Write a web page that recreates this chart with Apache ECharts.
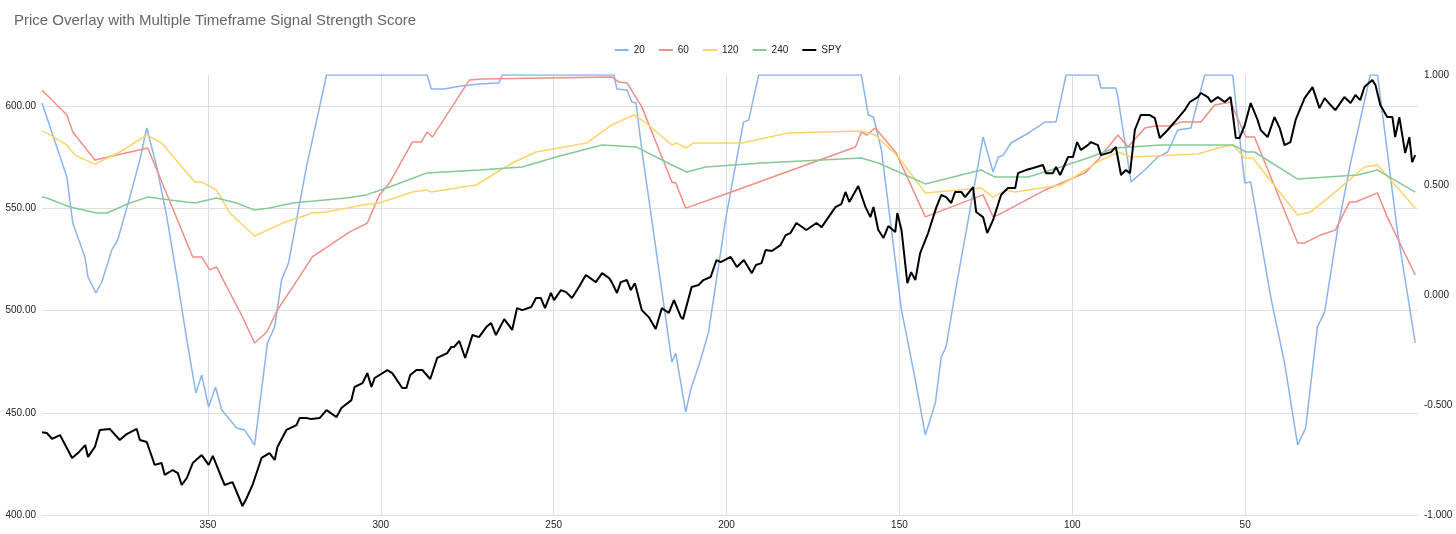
<!DOCTYPE html>
<html><head><meta charset="utf-8">
<script src="https://cdn.jsdelivr.net/npm/echarts@6/dist/echarts.min.js"></script>
<style>html,body{margin:0;padding:0;background:#fff}#c{width:1456px;height:534px}</style>
</head><body><div id="c"></div>
<script>
const seriesNames = ['20','60','120','240','SPY'];
const xTicks = [50,100,150,200,250,300,350];

const s20X = [398,390.8,389.1,385.6,384.7,382.4,380.7,377.8,376.1,372.6,369.7,367.7,364.8,361.9,359.0,356.1,353.5,351.8,349.8,347.8,346.0,341.7,339.4,336.5,332.8,330.7,328.7,326.7,321.5,315.7,286.6,285.4,281.7,276.8,271.6,265.8,264.9,232.6,231.7,228.8,227.4,226.2,224.5,220.5,215.8,214.7,211.8,210.4,207.5,205.2,200.3,195.1,193.6,190.7,161.0,159.0,157.5,155.2,149.4,145.4,142.5,139.6,137.9,136.5,133.9,125.8,122.9,121.4,120.0,117.7,112.2,107.9,104.7,101.8,92.6,91.7,87.4,86.8,83.0,79.0,75.3,72.4,69.5,65.7,61.7,53.6,50.1,48.4,42.6,38.6,34.8,32.5,29.1,27.0,23.3,19.5,13.8,11.7,6.0,0.8];
const s20Y = [0.873,0.536,0.327,0.173,0.082,0.009,0.059,0.205,0.25,0.445,0.614,0.759,0.582,0.355,0.082,-0.205,-0.445,-0.364,-0.509,-0.418,-0.523,-0.605,-0.614,-0.682,-0.218,-0.145,0.068,0.145,0.582,1,1,0.936,0.936,0.95,0.959,0.964,1,1,0.936,0.932,0.877,0.873,0.659,0.218,-0.305,-0.264,-0.532,-0.432,-0.295,-0.168,0.341,0.786,0.795,1,1,0.818,0.809,0.659,-0.068,-0.386,-0.636,-0.491,-0.282,-0.236,0.009,0.718,0.559,0.627,0.636,0.691,0.741,0.786,0.786,1,1,0.941,0.941,0.9,0.514,0.568,0.627,0.65,0.75,0.759,1,1,0.509,0.514,-0.009,-0.309,-0.682,-0.605,-0.145,-0.077,0.295,0.6,1,1,0.295,-0.218];

const s60X = [398,396.6,390.8,389.1,385.0,382.7,367.4,354.4,351.8,349.5,347.5,340.0,336.5,333.0,329.9,325.5,319.8,309.1,303.9,300.4,297.5,290.9,288.3,286.6,285.1,274.4,270.7,233.2,231.1,228.8,224.5,215.8,214.7,211.8,199.4,162.7,161.0,159.5,157.0,150.9,142.5,125.8,122.9,121.4,107.9,96.3,92.6,86.8,83.9,79.0,76.1,71.5,68.6,62.8,58.8,54.2,49.8,47.3,34.8,32.8,28.2,23.9,19.8,18.1,11.7,8.9,0.8];
const s60Y = [0.93,0.909,0.818,0.741,0.659,0.614,0.668,0.173,0.173,0.114,0.127,-0.1,-0.218,-0.168,-0.068,0.036,0.173,0.286,0.327,0.455,0.509,0.695,0.695,0.741,0.718,0.977,0.982,0.991,0.968,0.964,0.855,0.514,0.509,0.395,0.464,0.673,0.741,0.727,0.759,0.645,0.355,0.455,0.355,0.364,0.477,0.555,0.614,0.727,0.673,0.759,0.768,0.768,0.786,0.786,0.864,0.877,0.718,0.718,0.236,0.236,0.273,0.295,0.423,0.423,0.464,0.355,0.091];

const s120X = [398,396.6,390.8,388.5,382.7,375.5,367.7,363.4,353.8,351.8,347.5,343.7,336.5,328.4,319.8,315.7,305.3,300.4,290.9,286.6,285.4,272.4,262.0,255.1,240.4,233.2,226.8,223.3,215.8,214.4,211.8,209.5,195.6,182.1,161.0,157.0,150.3,142.5,126.4,122.9,119.4,116.5,103.3,97.5,92.6,86.8,83.0,63.7,57.9,53.6,50.1,47.8,34.8,31.1,23.3,15.5,11.7,0.8];
const s120Y = [0.745,0.736,0.682,0.636,0.595,0.65,0.727,0.691,0.514,0.514,0.477,0.373,0.268,0.327,0.373,0.377,0.409,0.418,0.468,0.477,0.468,0.5,0.6,0.65,0.691,0.773,0.818,0.782,0.682,0.691,0.668,0.691,0.691,0.736,0.745,0.727,0.627,0.464,0.486,0.445,0.477,0.468,0.5,0.555,0.605,0.65,0.627,0.641,0.668,0.682,0.623,0.623,0.364,0.377,0.477,0.582,0.591,0.395];

const s240X = [398,396.6,389.9,382.1,379.2,372.6,367.4,361.0,353.8,347.5,341.7,336.5,332.2,325.5,310.0,304.2,297.5,286.6,271.6,259.1,249.3,236.0,226.2,215.8,211.5,206.0,189.9,161.0,156.1,142.5,126.4,122.3,112.8,103.3,95.5,87.7,74.4,53.6,49.8,47.3,34.8,17.5,11.7,0.8];
const s240Y = [0.445,0.441,0.4,0.373,0.373,0.418,0.445,0.432,0.418,0.441,0.418,0.386,0.395,0.418,0.441,0.455,0.491,0.555,0.568,0.582,0.627,0.682,0.673,0.591,0.559,0.582,0.6,0.623,0.6,0.505,0.568,0.536,0.536,0.582,0.623,0.668,0.682,0.682,0.65,0.65,0.527,0.545,0.568,0.468];

const spyX = [398,396.6,395.1,392.8,389.3,387.6,385.5,384.7,382.7,381.3,378.4,375.5,373.5,370.6,369.7,367.7,365.4,363.4,362.5,360.2,358.7,357.6,356.1,354.4,351.8,349.8,348.6,345.2,342.9,340.0,338.8,337.1,334.5,332.2,330.7,329.9,327.3,324.4,323.5,321.5,320.1,317.7,315.7,312.8,311.4,308.5,307.6,305.3,303.9,302.7,301.8,298.1,296.7,293.8,292.6,291.5,289.7,288.0,285.7,283.7,280.8,279.6,278.8,277.3,275.6,273.5,271.6,269.5,268.1,266.7,264.3,262.0,260.6,259.1,256.5,255.1,253.7,252.5,250.8,249.9,247.9,246.4,244.7,242.7,240.7,237.8,236.0,234.0,233.2,231.7,230.6,228.8,227.7,226.5,224.5,222.5,220.5,218.7,216.7,215.2,213.2,212.6,210.1,208.1,206.7,204.6,202.9,201.7,198.8,197.0,195.0,192.7,191.5,189.9,188.7,186.9,184.4,182.9,181.5,179.8,176.9,174.0,172.5,170.5,168.5,166.8,165.6,164.5,161.9,159.8,158.4,157.5,156.1,154.6,153.2,151.2,150.6,149.4,147.7,146.6,145.4,144.0,141.7,139.3,137.9,136.5,135.0,133.9,132.1,131.0,128.7,127.8,125.8,124.6,122.9,120.6,118.6,116.5,115.7,113.4,111.3,108.5,107.6,105.6,104.7,103.5,101.2,99.8,98.6,97.5,95.5,94.6,92.6,91.7,88.8,87.4,85.9,84.5,83.3,81.9,80.2,77.6,76.1,74.7,72.4,70.4,67.5,66.0,63.7,62.8,60.8,59.9,57.9,55.9,54.2,52.7,51.6,50.1,48.4,46.4,45.5,43.5,41.5,40.0,38.6,36.9,35.4,32.8,30.5,28.5,27.0,25.3,23.9,21.3,19.5,18.1,16.7,15.5,13.2,12.3,10.9,8.9,7.4,6.6,5.4,3.7,2.5,1.7,0.8];
const spyY = [440.5,440.1,437.2,439.1,427.9,430.3,434.2,428.4,433.3,441.6,442.1,436.7,439.6,442.1,436.7,435.7,424.5,425.4,419.6,422.0,420.5,414.7,418.1,425.4,429.3,424.5,428.9,414.7,416.1,404.4,408.3,414.7,427.9,430.3,426.9,433.3,441.6,444.0,447.4,447.4,446.9,447.4,451.3,447.9,452.3,456.2,462.6,464.5,469.4,462.6,467.0,470.9,469.4,462.1,462.1,468.5,470.9,470.9,466.5,476.8,479.2,482.2,482.2,485.1,476.8,488.0,487.0,491.9,493.9,488.0,495.8,490.5,501.2,500.2,501.7,506.1,506.1,501.2,508.6,505.1,510.0,509.0,506.1,511.5,517.4,513.9,518.3,515.9,513.9,508.6,513.9,514.9,510.0,513.4,500.2,496.8,491.0,501.2,498.8,505.1,496.8,495.8,511.5,512.5,514.9,516.4,524.7,523.7,526.2,521.3,524.7,518.3,522.3,523.2,529.6,529.1,532.0,536.9,537.9,542.8,539.4,542.8,540.8,545.7,550.6,552.1,558.0,553.1,560.9,550.6,545.7,550.6,539.4,535.5,541.3,538.4,547.7,539.4,513.4,518.8,514.9,528.1,537.9,550.6,556.5,555.5,552.6,558.0,558.0,555.5,560.4,548.2,545.7,537.9,544.3,556.5,559.9,559.9,567.2,568.7,569.7,571.2,567.2,567.2,570.2,566.3,575.1,575.1,582.4,578.5,580.9,582.4,580.9,576.0,577.5,580.0,566.3,568.7,567.2,588.3,595.6,595.6,594.1,584.4,588.3,592.2,598.0,602.0,604.4,606.4,604.4,602.0,604.4,602.0,604.4,584.4,584.4,590.7,601.5,593.2,588.3,584.8,594.6,589.2,580.9,582.4,593.2,603.9,609.3,599.0,603.9,600.5,598.0,604.4,601.5,605.4,602.9,609.3,612.7,610.3,600.5,594.6,594.6,584.8,594.6,577.0,584.8,572.6,576.0];

const colors = ['#8ab4f0','#ef8f85','#fcd46b','#86c995','#000000'];
const zip = (xs, ys) => xs.map((x, i) => [x, ys[i]]);
const seriesData = [zip(s20X,s20Y), zip(s60X,s60Y), zip(s120X,s120Y), zip(s240X,s240Y), zip(spyX,spyY)];
const FONT = 'Liberation Sans, Arial, sans-serif';

const chart = echarts.init(document.getElementById('c'), null, {renderer:'canvas'});
chart.setOption({
  animation:false,
  color: colors,
  title:{text:'Price Overlay with Multiple Timeframe Signal Strength Score', left:9, top:8,
    textStyle:{fontFamily:FONT, fontSize:15, fontWeight:'normal', color:'#666666'}},
  legend:{top:40, left:'center', itemWidth:14, itemHeight:2, itemGap:14, icon:'rect',
    textStyle:{fontFamily:FONT, fontSize:10, color:'#222'}, data:seriesNames},
  grid:{left:42, right:38, top:75, bottom:19, containLabel:false},
  xAxis:{type:'value', inverse:true, min:0, max:398, interval:50,
    axisLine:{show:false}, axisTick:{show:false},
    axisLabel:{showMinLabel:false, showMaxLabel:false, fontFamily:FONT, fontSize:10, color:'#222', margin:5},
    splitLine:{show:true, showMinLine:false, showMaxLine:false, lineStyle:{color:'#d6dfee', width:1}}},
  yAxis:[
    {type:'value', min:400, max:615.2, interval:50, position:'left',
     axisLine:{show:false}, axisTick:{show:false},
     axisLabel:{showMaxLabel:false, fontFamily:FONT, fontSize:10, color:'#222', margin:6,
       formatter:v=>v.toFixed(2)},
     splitLine:{show:true, showMaxLine:false, lineStyle:{color:'#e0e0e0'}}},
    {type:'value', min:-1, max:1, interval:0.5, position:'right',
     axisLine:{show:false}, axisTick:{show:false},
     axisLabel:{fontFamily:FONT, fontSize:10, color:'#222', margin:6, formatter:v=>v.toFixed(3)},
     splitLine:{show:false}}
  ],
  series: seriesNames.map((n,i)=>({
    name:n, type:'line', yAxisIndex: i===4?0:1, data: seriesData[i],
    showSymbol:false, symbol:'none',
    lineStyle:{width: i===4?2:1.5, color: colors[i]}, z: i===4?5:2
  }))
});
</script></body></html>
